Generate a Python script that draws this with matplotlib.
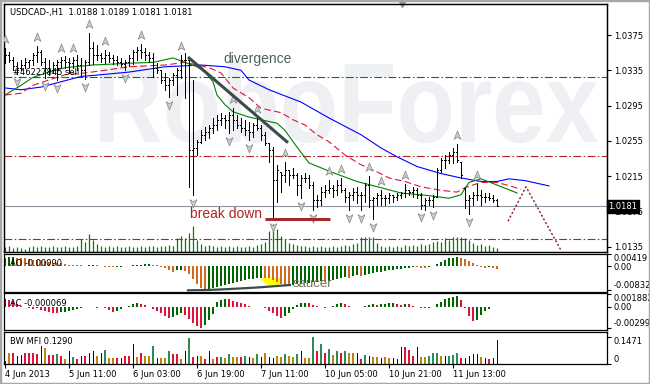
import numpy as np
import matplotlib
matplotlib.use("Agg")
import matplotlib.pyplot as plt
from matplotlib.path import Path
from matplotlib.patches import PathPatch, Polygon, Rectangle
from matplotlib.textpath import TextPath
from matplotlib.font_manager import FontProperties
from matplotlib.transforms import Affine2D, offset_copy, blended_transform_factory

# ---------------- data ----------------
title_text = "USDCAD-,H1  1.0188 1.0189 1.0181 1.0181"
order_label = "#46227845 sell"

high = [1.0360, 1.0356, 1.0350, 1.0344, 1.0347, 1.0349, 1.0347, 1.0355, 1.0363, 1.0358,
        1.0349, 1.0347, 1.0344, 1.0347, 1.0350, 1.0351, 1.0349, 1.0350, 1.0352, 1.0349,
        1.0347, 1.0377, 1.0367, 1.0364, 1.0355, 1.0358, 1.0356, 1.0352, 1.0351, 1.0349,
        1.0347, 1.0352, 1.0358, 1.0361, 1.0365, 1.0360, 1.0356, 1.0355, 1.0343, 1.0335,
        1.0332, 1.0326, 1.0332, 1.0338, 1.0352, 1.0355, 1.0349, 1.0324, 1.0256, 1.0267,
        1.0271, 1.0273, 1.0281, 1.0284, 1.0287, 1.0284, 1.0288, 1.0292, 1.0284, 1.0281,
        1.0279, 1.0276, 1.0275, 1.0281, 1.0273, 1.0265, 1.0253, 1.0248, 1.0228, 1.0220,
        1.0231, 1.0222, 1.0224, 1.0219, 1.0216, 1.0219, 1.0216, 1.0208, 1.0194, 1.0203,
        1.0205, 1.0211, 1.0205, 1.0211, 1.0213, 1.0202, 1.0197, 1.0202, 1.0203, 1.0197,
        1.0207, 1.0215, 1.0191, 1.0196, 1.0199, 1.0194, 1.0196, 1.0194, 1.0196, 1.0197,
        1.0206, 1.0199, 1.0203, 1.0202, 1.0196, 1.0190, 1.0191, 1.0194, 1.0224, 1.0236,
        1.0239, 1.0242, 1.0247, 1.0251, 1.0231, 1.0202, 1.0194, 1.0197, 1.0206, 1.0199,
        1.0196, 1.0196, 1.0194, 1.0189]
low = [1.0343, 1.0344, 1.0335, 1.0331, 1.0335, 1.0338, 1.0339, 1.0341, 1.0344, 1.0341,
       1.0326, 1.0330, 1.0332, 1.0324, 1.0339, 1.0338, 1.0332, 1.0338, 1.0335, 1.0330,
       1.0325, 1.0341, 1.0342, 1.0347, 1.0344, 1.0343, 1.0344, 1.0342, 1.0341, 1.0340,
       1.0335, 1.0340, 1.0342, 1.0347, 1.0349, 1.0347, 1.0344, 1.0327, 1.0332, 1.0321,
       1.0313, 1.0305, 1.0318, 1.0307, 1.0326, 1.0304, 1.0203, 1.0194, 1.0239, 1.0253,
       1.0256, 1.0258, 1.0264, 1.0267, 1.0273, 1.0270, 1.0264, 1.0267, 1.0270, 1.0265,
       1.0262, 1.0256, 1.0259, 1.0267, 1.0256, 1.0250, 1.0231, 1.0167, 1.0186, 1.0197,
       1.0208, 1.0205, 1.0213, 1.0194, 1.0190, 1.0208, 1.0202, 1.0177, 1.0180, 1.0182,
       1.0191, 1.0196, 1.0191, 1.0194, 1.0197, 1.0186, 1.0177, 1.0188, 1.0185, 1.0177,
       1.0186, 1.0180, 1.0167, 1.0182, 1.0182, 1.0182, 1.0185, 1.0186, 1.0188, 1.0190,
       1.0191, 1.0194, 1.0191, 1.0190, 1.0178, 1.0177, 1.0182, 1.0180, 1.0191, 1.0220,
       1.0224, 1.0230, 1.0230, 1.0231, 1.0213, 1.0179, 1.0172, 1.0182, 1.0188, 1.0182,
       1.0186, 1.0188, 1.0186, 1.0181]
close = [1.0352, 1.0347, 1.0340, 1.0338, 1.0341, 1.0344, 1.0347, 1.0352, 1.0356, 1.0344,
         1.0338, 1.0335, 1.0341, 1.0344, 1.0347, 1.0344, 1.0343, 1.0347, 1.0341, 1.0335,
         1.0344, 1.0360, 1.0352, 1.0352, 1.0349, 1.0352, 1.0349, 1.0347, 1.0344, 1.0342,
         1.0344, 1.0349, 1.0356, 1.0358, 1.0356, 1.0352, 1.0349, 1.0338, 1.0335, 1.0324,
         1.0318, 1.0324, 1.0330, 1.0335, 1.0347, 1.0347, 1.0245, 1.0247, 1.0254, 1.0262,
         1.0265, 1.0270, 1.0273, 1.0279, 1.0281, 1.0279, 1.0284, 1.0279, 1.0273, 1.0270,
         1.0267, 1.0265, 1.0273, 1.0270, 1.0262, 1.0253, 1.0245, 1.0211, 1.0222, 1.0216,
         1.0222, 1.0216, 1.0216, 1.0205, 1.0213, 1.0213, 1.0205, 1.0188, 1.0188, 1.0197,
         1.0199, 1.0202, 1.0199, 1.0205, 1.0199, 1.0191, 1.0194, 1.0197, 1.0194, 1.0194,
         1.0205, 1.0188, 1.0190, 1.0194, 1.0190, 1.0190, 1.0194, 1.0191, 1.0194, 1.0196,
         1.0199, 1.0197, 1.0199, 1.0194, 1.0182, 1.0188, 1.0188, 1.0191, 1.0222, 1.0233,
         1.0233, 1.0239, 1.0242, 1.0233, 1.0216, 1.0188, 1.0190, 1.0194, 1.0194, 1.0191,
         1.0191, 1.0190, 1.0188, 1.0181]
volume = [750, 900, 600, 750, 600, 450, 750, 900, 750, 900, 750, 750, 900, 750, 750, 900, 750, 750, 900,
          1950, 1500, 2700, 1800, 1200,
          900, 750, 900, 750, 900, 750, 750, 900, 750, 750, 900, 750, 900, 900, 750, 900, 900, 1050, 900,
          2100, 2400, 2100, 2850, 3900, 1800, 1200, 900, 1050,
          900, 750, 900, 750, 900, 750, 900, 750, 750, 900, 750, 1050, 1200,
          1500, 3150, 4200, 3450, 2400, 1950, 1350, 1200,
          1050, 900, 900, 750, 900, 750, 900, 750, 750, 900, 750, 900, 1050, 900, 1200, 1350,
          2250, 2250, 2250, 2250, 1350,
          900, 750, 900, 750, 900, 750, 1050, 900, 1050, 900, 1200, 1050,
          1200, 1500, 1650, 1500, 2100, 1800, 2250, 2250, 2250, 2100, 1800, 1350, 1050, 1200, 900, 1050, 750, 600]

ao = [0.00301, 0.00319, 0.00336, 0.00301, 0.00283, 0.00266, 0.00248, 0.00230, 0.00212, 0.00195,
      0.00177, 0.00159, 0.00124, 0.00106, 0.00089, 0.00071, 0.00053, 0.00035, 0.00028, 0.00021,
      0.00014, 0.00025, 0.00032, 0.00021, 0.0, -0.00018, -0.00035, -0.00042, -0.00035, -0.00021,
      -0.00007, 0.00007, 0.00021, 0.00035, 0.00050, 0.00057, 0.00060, 0.00050, 0.00025, -0.00018,
      -0.00071, -0.00142, -0.00195, -0.00159, -0.00124, -0.00177, -0.00283, -0.00460, -0.00637, -0.00761,
      -0.00832, -0.00814, -0.00779, -0.00743, -0.00708, -0.00673, -0.00637, -0.00602, -0.00566, -0.00531,
      -0.00496, -0.00460, -0.00443, -0.00425, -0.00407, -0.00418, -0.00435, -0.00478, -0.00549, -0.00620,
      -0.00673, -0.00690, -0.00655, -0.00637, -0.00620, -0.00602, -0.00584, -0.00566, -0.00549, -0.00531,
      -0.00566, -0.00531, -0.00496, -0.00460, -0.00425, -0.00389, -0.00407, -0.00354, -0.00319, -0.00336,
      -0.00301, -0.00266, -0.00248, -0.00212, -0.00195, -0.00177, -0.00142, -0.00124, -0.00106, -0.00089,
      -0.00071, -0.00053, -0.00035, -0.00046, -0.00053, -0.00064, -0.00042, 0.0, 0.00071, 0.00142,
      0.00212, 0.00266, 0.00301, 0.00319, 0.00301, 0.00248, 0.00177, 0.00089, 0.00018, -0.00018,
      -0.00053, -0.00035, -0.00053, -0.00090]
ac = [0.00114, 0.00099, 0.00085, 0.00043, 0.00014, -0.00007, -0.00021, -0.00028, -0.00021, -0.00043,
      -0.00057, -0.00071, -0.00085, -0.00092, -0.00078, -0.00064, -0.00050, -0.00036, -0.00028, -0.00014,
      -0.00007, 0.00007, -0.00007, -0.00014, -0.00007, -0.00021, -0.00043, -0.00071, -0.00057, -0.00028,
      -0.00007, 0.00021, 0.00043, 0.00050, 0.00043, 0.00028, 0.00007, -0.00028, -0.00057, -0.00085,
      -0.00128, -0.00156, -0.00142, -0.00114, -0.00092, -0.00114, -0.00170, -0.00227, -0.00270, -0.00299,
      -0.00256, -0.00185, -0.00099, 0.00071, 0.00099, 0.00114, 0.00107, 0.00092, 0.00071, 0.00057,
      0.00036, 0.00014, 0.0, 0.00007, -0.00007, -0.00021, -0.00050, -0.00085, -0.00128, -0.00156,
      -0.00128, -0.00085, -0.00028, 0.00028, 0.00050, 0.00057, 0.00050, 0.00028, 0.00014, 0.0,
      -0.00014, -0.00007, 0.00014, 0.00036, 0.00050, 0.00043, 0.00021, 0.00007, -0.00007, 0.0,
      0.00014, 0.00028, 0.00036, 0.00028, 0.00036, 0.00043, 0.00050, 0.00054, 0.00043, 0.00028,
      0.00043, 0.00036, 0.00014, 0.0, -0.00014, -0.00021, -0.00014, 0.0, 0.00036, 0.00071,
      0.00107, 0.00135, 0.00149, 0.00156, 0.00099, -0.00014, -0.00128, -0.00199, -0.00185, -0.00114,
      -0.00057, -0.00028, 0.0, -0.000069]
mfi = [0.016, 0.060, 0.060, 0.044, 0.049, 0.060, 0.060, 0.060, 0.055, 0.098,
       0.087, 0.049, 0.049, 0.055, 0.044, 0.027, 0.071, 0.038, 0.027, 0.044,
       0.044, 0.060, 0.071, 0.044, 0.060, 0.076, 0.033, 0.033, 0.033, 0.033,
       0.044, 0.044, 0.109, 0.038, 0.060, 0.044, 0.044, 0.098, 0.033, 0.033,
       0.033, 0.071, 0.055, 0.055, 0.027, 0.071, 0.142, 0.038, 0.044, 0.044,
       0.027, 0.071, 0.027, 0.038, 0.038, 0.033, 0.055, 0.038, 0.038, 0.038,
       0.044, 0.038, 0.033, 0.055, 0.038, 0.060, 0.038, 0.033, 0.044, 0.038,
       0.055, 0.044, 0.038, 0.055, 0.071, 0.033, 0.033, 0.1471, 0.071, 0.109,
       0.060, 0.082, 0.049, 0.071, 0.060, 0.071, 0.060, 0.060, 0.060, 0.027,
       0.049, 0.044, 0.038, 0.038, 0.033, 0.038, 0.033, 0.033, 0.027, 0.093,
       0.093, 0.076, 0.044, 0.093, 0.038, 0.038, 0.044, 0.060, 0.060, 0.044,
       0.044, 0.044, 0.049, 0.060, 0.033, 0.033, 0.044, 0.055, 0.055, 0.038,
       0.033, 0.027, 0.033, 0.1290]
mfi_kind = ("byrbbrrrrb" "yrrgrybgrb" "rbbybgyyrb" "rrbyryygby" "ygrrybgrby"
            "rbyrgygyyr" "gbygbybbyy" "gyygbyygrg" "rgygrgyybr" "gbyybyybbb"
            "rrrbyygggy" "bgggrbbbby" "brbb")

fractal_up = [0, 8, 14, 17, 21, 25, 34, 44, 57, 63, 70, 81, 84, 91, 94, 100, 113, 118]
fractal_dn = [3, 10, 13, 20, 30, 41, 47, 56, 61, 67, 74, 77, 86, 89, 92, 104, 107, 116]

jaw_x = [0, 4, 9, 14, 19, 24, 31, 40, 49, 55, 59, 61, 66, 74, 81, 89, 94, 98, 103, 109, 114, 119, 123, 126, 130, 136]
jaw_y = [1.0315, 1.0313, 1.0316, 1.0322, 1.0328, 1.0330, 1.0333, 1.0339, 1.0341, 1.0339, 1.0335, 1.0324, 1.0313,
         1.0299, 1.0281, 1.0262, 1.0247, 1.0237, 1.0226, 1.0218, 1.0213, 1.0209, 1.0209, 1.0212, 1.0210, 1.0204]
teeth_x = [0, 4, 7, 11, 15, 20, 25, 31, 40, 45, 48, 51, 54, 57, 61, 64, 69, 72, 75, 78, 81, 85, 89, 93, 96,
           100, 104, 109, 113, 115, 119, 123, 127, 129]
teeth_y = [1.0307, 1.0309, 1.0318, 1.0324, 1.0330, 1.0332, 1.0335, 1.0339, 1.0341, 1.0344, 1.0341, 1.0338,
           1.0332, 1.0315, 1.0304, 1.0292, 1.0287, 1.0279, 1.0273, 1.0262, 1.0254, 1.0239, 1.0228, 1.0220,
           1.0213, 1.0209, 1.0203, 1.0199, 1.0197, 1.0202, 1.0208, 1.0208, 1.0203, 1.0200]
lips_x = [0, 4, 7, 11, 15, 22, 31, 37, 42, 45, 48, 50, 52, 53, 55, 57, 61, 64, 68, 70, 73, 76, 82, 88, 94,
          99, 106, 111, 114, 116, 119, 123, 128]
lips_y = [1.0307, 1.0318, 1.0327, 1.0333, 1.0338, 1.0341, 1.0343, 1.0344, 1.0349, 1.0344, 1.0339, 1.0333,
          1.0322, 1.0307, 1.0296, 1.0288, 1.0282, 1.0279, 1.0275, 1.0267, 1.0248, 1.0230, 1.0219, 1.0209,
          1.0202, 1.0196, 1.0193, 1.0190, 1.0194, 1.0208, 1.0212, 1.0205, 1.0196]

level_green = 1.0327
level_red_hi = 1.0238
level_red_lo = 1.0144
bid = 1.0181
price_ticks = [1.0375, 1.0335, 1.0295, 1.0255, 1.0215, 1.0175, 1.0135]

trend_x, trend_y = [45.75, 70.75], [1.0350, 1.0253]
breakdown_x, breakdown_y = [65.0, 81.25], [1.0167, 1.0167]
forecast_x, forecast_y = [125.75, 130.25, 139.0], [1.0164, 1.0203, 1.0131]
saucer_line_x = [45.75, 50.75, 56.25, 63.0, 71.25]
saucer_line_y = [-0.00860, -0.00850, -0.00814, -0.00761, -0.00673]
saucer_patch_x = [64.0, 64.6, 65.6, 67.0, 68.4, 69.0, 69.0]
saucer_patch_y = [-0.0041, -0.0056, -0.0066, -0.0071, -0.0068, -0.0055, -0.0041]

time_pos = [0, 16, 32, 48, 64, 80, 96, 112]
time_labels = ["4 Jun 2013", "5 Jun 11:00", "6 Jun 03:00", "6 Jun 19:00", "7 Jun 11:00",
               "10 Jun 05:00", "10 Jun 21:00", "11 Jun 13:00"]

# ---------------- figure ----------------
W, H = 650, 384
fig = plt.figure(figsize=(W / 100, H / 100), dpi=100)
fig.patch.set_facecolor("white")
UI = "DejaVu Sans"
ANN = "Liberation Sans"
FS = 6.0
LW1 = 0.72   # 1 px


def rect(x0, y0, x1, y1):
    return [x0 / W, 1 - y1 / H, (x1 - x0) / W, (y1 - y0) / H]


def fpx(x, y):
    return x / W, 1 - y / H


n = len(high)
idx = np.arange(n)
XL = (-0.25, 150.5)

ax = fig.add_axes(rect(4, 4, 607, 252))
axv = ax.twinx()
ax.set_zorder(axv.get_zorder() + 1)
ax.patch.set_visible(False)
ax_ao = fig.add_axes(rect(4, 254, 607, 292))
ax_ac = fig.add_axes(rect(4, 293, 607, 330))
ax_mf = fig.add_axes(rect(4, 332, 607, 364))

for a in (ax, axv, ax_ao, ax_ac, ax_mf):
    a.set_xlim(*XL)
    for s in a.spines.values():
        s.set_linewidth(0.9)
        s.set_color("black")
for a in (ax, ax_ao, ax_ac):
    a.set_xticks([])

# watermark
fp = FontProperties(family=ANN, weight="bold")
tp = TextPath((0, 0), "RoboForex", size=1, prop=fp)
ext = tp.get_extents()
wm_left, wm_right, wm_top, wm_base = 100, 598, 60, 142
sx = (wm_right - wm_left) / ext.width
sy = (wm_base - wm_top) / ext.y1
wm = PathPatch(tp, transform=Affine2D().translate(-ext.x0, 0).scale(sx, sy).translate(wm_left, H - wm_base),
               facecolor="#eef0f4", edgecolor="none", zorder=0)
axv.add_artist(wm)

# volumes
axv.vlines(idx, 0, volume, color="#008000", lw=0.9, antialiased=True)
axv.set_ylim(0, max(volume) * 248 / 28)
axv.set_yticks([])
axv.set_xticks([])

# price panel
ax.set_ylim(1.012912, 1.041013)
ax.axhline(level_green, color="#008000", lw=0.8, dashes=(7, 2.2, 1.4, 2.2))
ax.axhline(level_red_hi, color="#b22222", lw=0.8, dashes=(7, 2.2, 1.4, 2.2))
ax.axhline(level_red_lo, color="#b22222", lw=0.8, dashes=(7, 2.2, 1.4, 2.2))
ax.axhline(bid, color="#8a95a0", lw=0.8)

ax.plot(jaw_x, jaw_y, color="#0000ff", lw=0.8)
ax.plot(teeth_x, teeth_y, color="#dc143c", lw=0.8, dashes=(6, 3))
ax.plot(lips_x, lips_y, color="#008000", lw=0.8)

opens = np.clip(np.r_[close[0], close[:-1]], low, high)
ax.vlines(idx, low, high, color="black", lw=LW1, antialiased=False, zorder=3)
ax.hlines(opens, idx - 0.26, idx, color="black", lw=LW1, antialiased=False, zorder=3)
ax.hlines(close, idx, idx + 0.26, color="black", lw=LW1, antialiased=False, zorder=3)

arrow = Path([(0, 1), (0.75, -0.85), (0, -0.35), (-0.75, -0.85), (0, 1)],
             [Path.MOVETO, Path.LINETO, Path.LINETO, Path.LINETO, Path.CLOSEPOLY])
arrow_dn = Path([(0, -1), (0.75, 0.85), (0, 0.35), (-0.75, 0.85), (0, -1)],
                [Path.MOVETO, Path.LINETO, Path.LINETO, Path.LINETO, Path.CLOSEPOLY])
tr_up = offset_copy(ax.transData, fig=fig, x=0, y=9, units="dots")
tr_dn = offset_copy(ax.transData, fig=fig, x=0, y=-8, units="dots")
ax.plot(fractal_up, [high[i] for i in fractal_up], ls="none", marker=arrow, ms=6.5,
        mfc="#cdcdcd", mec="#858585", mew=0.5, transform=tr_up, zorder=4)
ax.plot(fractal_dn, [low[i] for i in fractal_dn], ls="none", marker=arrow_dn, ms=6.5,
        mfc="#cdcdcd", mec="#858585", mew=0.5, transform=tr_dn, zorder=4)

ax.plot(trend_x, trend_y, color="#3b4b4b", lw=2.2, solid_capstyle="butt", zorder=5)
ax.plot(breakdown_x, breakdown_y, color="#a52a2a", lw=2.2, solid_capstyle="butt", zorder=5)
ax.plot(forecast_x, forecast_y, color="#8b1a1a", lw=1.0, dashes=(1.5, 1.5), zorder=5)

ax.text(54.5, 1.0348, "divergence", family=ANN, fontsize=10, color="#4f5f5f", va="center", ha="left")
ax.text(46.25, 1.0172, "break down", family=ANN, fontsize=10, color="#b22222", va="center", ha="left")

ax.yaxis.tick_right()
ax.set_yticks(price_ticks)
ax.set_yticklabels([f"{p:.4f}" for p in price_ticks])
ax.tick_params(axis="y", direction="out", length=3, width=0.8, labelsize=FS, pad=2)
for lab in ax.get_yticklabels():
    lab.set_family(UI)
ax.text(1.0025, bid, f"{bid:.4f}", transform=blended_transform_factory(ax.transAxes, ax.transData),
        color="white", fontsize=FS, family=UI, va="center", ha="left", clip_on=False, zorder=10,
        bbox=dict(boxstyle="square,pad=0.22", fc="black", ec="black"))
ax.plot([99.25], [1.0], marker="v", ms=5, color="#8c8c8c",
        transform=blended_transform_factory(ax.transData, ax.transAxes), clip_on=False)

fig.text(*fpx(10, 12.5), title_text, family=UI, fontsize=FS, va="center", ha="left")
ax.text(2, 1.0333, order_label, family=UI, fontsize=FS, va="center", ha="left", zorder=6)

# AO
ao_arr = np.array(ao)
ao_up = np.r_[True, ao_arr[1:] > ao_arr[:-1]]
ax_ao.add_patch(Polygon(list(zip(saucer_patch_x, saucer_patch_y)), closed=True,
                        fc="#ffff00", ec="none", zorder=1))
ax_ao.bar(idx, ao, width=0.72, color=np.where(ao_up, "#006400", "#d2691e"), lw=0, zorder=2)
ax_ao.plot(saucer_line_x, saucer_line_y, color="#3b4b4b", lw=1.6, zorder=3)
ax_ao.text(72, -0.0064, "saucer", family=ANN, fontsize=9.5, color="#6e6e5a", va="center", ha="left")
ax_ao.set_ylim(-0.0092, 0.00425)

# AC
ac_arr = np.array(ac)
ac_up = np.r_[True, ac_arr[1:] > ac_arr[:-1]]
ax_ac.bar(idx, ac, width=0.72, color=np.where(ac_up, "#006400", "#dc143c"), lw=0)
ax_ac.set_ylim(-0.00327, 0.00199)

# MFI
mcol = {"g": "#2e8b57", "r": "#dc143c", "y": "#b8860b", "b": "#00008b"}
mw = [0.25 if k == "b" else 0.72 for k in mfi_kind]
ax_mf.bar(idx, mfi, width=mw, color=[mcol[k] for k in mfi_kind], lw=0)
ax_mf.set_ylim(0, 0.1745)

for a, ticks, labels in ((ax_ao, [0.00419, 0.0, -0.00832], ["0.00419", "0.00", "-0.00832"]),
                         (ax_ac, [0.001882, 0.0, -0.00299], ["0.001882", "0.00", "-0.00299"]),
                         (ax_mf, [0.1471, 0.0], ["0.1471", "0"])):
    a.yaxis.tick_right()
    a.set_yticks(ticks)
    a.set_yticklabels(labels)
    a.tick_params(axis="y", direction="out", length=3, width=0.8, labelsize=FS, pad=2)
    labs = a.get_yticklabels()
    labs[0].set_va("top")
    labs[-1].set_va("bottom")
    for lab in labs:
        lab.set_family(UI)

ax_mf.set_xticks(time_pos)
ax_mf.set_xticklabels(time_labels, family=UI, fontsize=FS, ha="left")
ax_mf.tick_params(axis="x", direction="out", length=3, width=0.8, pad=1.5)

fig.text(*fpx(10, 263), f"AO {ao[-1]:.5f}", family=UI, fontsize=FS, va="center", ha="left")
fig.text(*fpx(10, 303), f"AC {ac[-1]:.6f}", family=UI, fontsize=FS, va="center", ha="left")
fig.text(*fpx(10, 342), f"BW MFI {mfi[-1]:.4f}", family=UI, fontsize=FS, va="center", ha="left")

fig.patches.append(Rectangle((0, 0), 1, 1, transform=fig.transFigure, fill=False,
                             ec="#a8a8a8", lw=2.5, zorder=20))

fig.savefig("out.png", dpi=100)
